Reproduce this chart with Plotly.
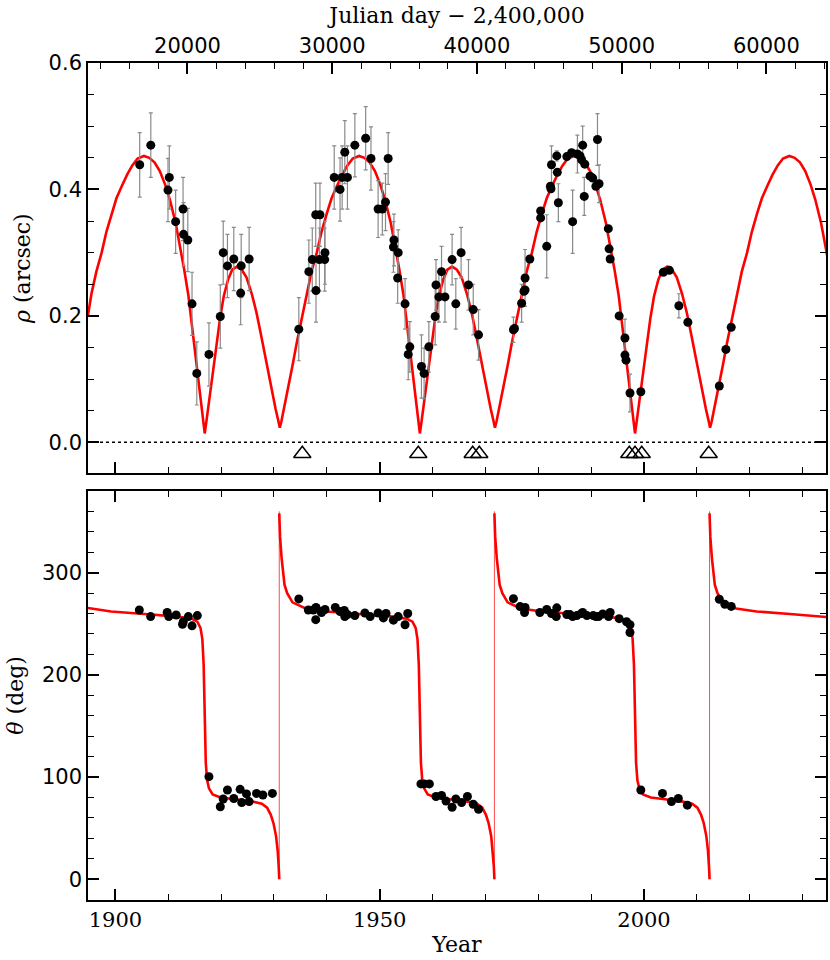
"""
Orbit plot: separation rho and position angle theta vs. time
=============================================================
  Block 0: Imports & Setup
  Block 1: Data (read off the reference figure)
  Block 2: Create Chart
  Block 3: HTML Export
"""

# region Block 0 - Imports & Setup
import plotly.graph_objects as go

WIDTH  = 830
HEIGHT = 960

RED   = "#ff0000"
BLACK = "#000000"
ERR_GRAY = "#8a8a8a"

SERIF = "DejaVu Serif, Liberation Serif, serif"
SANS  = "DejaVu Sans, Liberation Sans, sans-serif"

YEAR_RANGE  = [1894.82, 2034.43]
RHO_RANGE   = [-0.049, 0.6]
THETA_RANGE = [-20.3, 380.2]
NODE_LEVEL  = -0.018          # height of the open triangles


def year_to_jd(yr):
    # Julian day - 2,400,000 for a decimal year
    return 15020.3 + (yr - 1900.0) * 365.25
# endregion


# region Block 1 - Data
# Orbit model, separation (arcsec)
rho_curve_year = [
    1894.8, 1895.5, 1896.4, 1897.4, 1898.3, 1899.3, 1900.2, 1901.2, 1902.2, 1903.2,
    1904.2, 1905.4, 1906.4, 1907.4, 1908.4, 1909.4, 1910.3, 1911.4, 1912.2, 1913.0,
    1913.8, 1914.5, 1915.2, 1915.8, 1916.2, 1916.6,
    1916.9, 1917.2, 1917.6, 1918.2, 1918.9, 1919.8, 1920.5, 1921.3, 1922.1, 1923.0,
    1923.9, 1924.8, 1925.8, 1926.7, 1927.5, 1928.2, 1928.9, 1929.6, 1930.3, 1930.8,
    1931.1, 1931.4, 1931.9, 1932.7, 1933.5, 1934.3, 1935.3, 1936.2, 1937.1, 1938.1,
    1939.0, 1940.0, 1940.9, 1941.9, 1942.9, 1943.9, 1944.9, 1946.1, 1947.1, 1948.1,
    1949.1, 1950.1, 1951.0, 1952.1, 1952.9, 1953.7, 1954.5, 1955.2, 1955.9, 1956.5,
    1956.9, 1957.3,
    1957.6, 1957.9, 1958.3, 1958.9, 1959.6, 1960.5, 1961.2, 1962.0, 1962.8, 1963.7,
    1964.6, 1965.5, 1966.5, 1967.4, 1968.2, 1968.9, 1969.6, 1970.3, 1971.0, 1971.5,
    1971.8, 1972.1, 1972.6, 1973.4, 1974.2, 1975.0, 1976.0, 1976.9, 1977.8, 1978.8,
    1979.7, 1980.7, 1981.6, 1982.6, 1983.6, 1984.6, 1985.6, 1986.8, 1987.8, 1988.8,
    1989.8, 1990.8, 1991.7, 1992.8, 1993.6, 1994.4, 1995.2, 1995.9, 1996.6, 1997.2,
    1997.6, 1998.0,
    1998.3, 1998.6, 1999.0, 1999.6, 2000.3, 2001.2, 2001.9, 2002.7, 2003.5, 2004.4,
    2005.3, 2006.2, 2007.2, 2008.1, 2008.9, 2009.6, 2010.3, 2011.0, 2011.7, 2012.2,
    2012.5, 2012.8, 2013.3, 2014.1, 2014.9, 2015.7, 2016.7, 2017.6, 2018.5, 2019.5,
    2020.4, 2021.4, 2022.3, 2023.3, 2024.3, 2025.3, 2026.3, 2027.5, 2028.5, 2029.5,
    2030.5, 2031.5, 2032.4, 2033.5, 2034.3, 2035.0,
]
rho_curve_val = [
    0.200, 0.236, 0.270, 0.300, 0.333, 0.362, 0.386, 0.405, 0.423, 0.438,
    0.449, 0.453, 0.450, 0.443, 0.429, 0.408, 0.384, 0.347, 0.312, 0.274,
    0.233, 0.185, 0.135, 0.094, 0.065, 0.034,
    0.014, 0.032, 0.058, 0.097, 0.142, 0.196, 0.231, 0.257, 0.273, 0.278,
    0.273, 0.261, 0.235, 0.205, 0.172, 0.141, 0.111, 0.081, 0.053, 0.035,
    0.023, 0.033, 0.053, 0.086, 0.121, 0.157, 0.199, 0.236, 0.270, 0.300,
    0.333, 0.362, 0.386, 0.405, 0.423, 0.438, 0.449, 0.453, 0.450, 0.443,
    0.429, 0.408, 0.384, 0.347, 0.312, 0.274, 0.233, 0.185, 0.135, 0.094,
    0.065, 0.034,
    0.014, 0.032, 0.058, 0.097, 0.142, 0.196, 0.231, 0.257, 0.273, 0.278,
    0.273, 0.261, 0.235, 0.205, 0.172, 0.141, 0.111, 0.081, 0.053, 0.035,
    0.023, 0.033, 0.053, 0.086, 0.121, 0.157, 0.199, 0.236, 0.270, 0.300,
    0.333, 0.362, 0.386, 0.405, 0.423, 0.438, 0.449, 0.453, 0.450, 0.443,
    0.429, 0.408, 0.384, 0.347, 0.312, 0.274, 0.233, 0.185, 0.135, 0.094,
    0.065, 0.034,
    0.014, 0.032, 0.058, 0.097, 0.142, 0.196, 0.231, 0.257, 0.273, 0.278,
    0.273, 0.261, 0.235, 0.205, 0.172, 0.141, 0.111, 0.081, 0.053, 0.035,
    0.023, 0.033, 0.053, 0.086, 0.121, 0.157, 0.199, 0.236, 0.270, 0.300,
    0.333, 0.362, 0.386, 0.405, 0.423, 0.438, 0.449, 0.453, 0.450, 0.443,
    0.429, 0.408, 0.384, 0.347, 0.312, 0.280,
]

# Orbit model, position angle (deg); None = wrap 0 -> 360
theta_curve_year = [
    1894.8, 1899.2, 1905.5, 1911.8, 1914.4, 1915.5, 1916.1, 1916.45, 1916.7, 1916.9,
    1917.1, 1917.35, 1917.7, 1918.4, 1919.9, 1922.9, 1925.9, 1927.7, 1928.7, 1929.4,
    1929.9, 1930.4, 1930.7, 1930.9, 1931.0, None,
    1931.0, 1931.15, 1931.45, 1931.7, 1932.0, 1932.5, 1933.5, 1936.0, 1939.9, 1946.2,
    1952.5, 1955.1, 1956.2, 1956.8, 1957.15, 1957.4, 1957.6, 1957.8, 1958.05, 1958.4,
    1959.1, 1960.6, 1963.6, 1966.6, 1968.4, 1969.4, 1970.1, 1970.6, 1971.1, 1971.4,
    1971.6, 1971.7, None,
    1971.7, 1971.85, 1972.15, 1972.4, 1972.7, 1973.2, 1974.2, 1976.7, 1980.6, 1986.9,
    1993.2, 1995.8, 1996.9, 1997.5, 1997.85, 1998.1, 1998.3, 1998.5, 1998.75, 1999.1,
    1999.8, 2001.3, 2004.3, 2007.3, 2009.1, 2010.1, 2010.8, 2011.3, 2011.8, 2012.1,
    2012.3, 2012.4, None,
    2012.4, 2012.55, 2012.85, 2013.1, 2013.4, 2013.9, 2014.9, 2017.4, 2021.3, 2027.6,
    2035.0,
]
theta_curve_val = [
    265.5, 262.0, 259.6, 257.0, 255.0, 252.0, 246.0, 235.0, 210.0, 160.0,
    114.0, 97.0, 89.0, 83.0, 80.0, 78.0, 76.0, 74.0, 70.0, 63.0,
    55.0, 42.0, 28.0, 12.0, 0.0, None,
    358.0, 335.0, 314.0, 300.0, 288.0, 280.0, 271.0, 265.0, 262.0, 259.6,
    257.0, 255.0, 252.0, 246.0, 235.0, 210.0, 160.0, 114.0, 97.0, 89.0,
    83.0, 80.0, 78.0, 76.0, 74.0, 70.0, 63.0, 55.0, 42.0, 28.0,
    12.0, 0.0, None,
    358.0, 335.0, 314.0, 300.0, 288.0, 280.0, 271.0, 265.0, 262.0, 259.6,
    257.0, 255.0, 252.0, 246.0, 235.0, 210.0, 160.0, 114.0, 97.0, 89.0,
    83.0, 80.0, 78.0, 76.0, 74.0, 70.0, 63.0, 55.0, 42.0, 28.0,
    12.0, 0.0, None,
    358.0, 335.0, 314.0, 300.0, 288.0, 280.0, 271.0, 265.0, 262.0, 259.6,
    256.3,
]
theta_wrap_year = [1931.0, 1971.7, 2012.4]

# Measured separations
rho_obs_year = [
    1904.6, 1906.7, 1909.95, 1910.2, 1911.4, 1912.8, 1912.9, 1913.7, 1914.5, 1915.4,
    1917.7, 1919.85, 1920.4, 1921.2, 1922.4, 1923.7, 1923.8, 1925.3, 1934.7, 1936.6,
    1937.25, 1937.9, 1937.95, 1938.6, 1938.7, 1939.6, 1939.65, 1941.4, 1942.5, 1942.9,
    1943.4, 1943.9, 1945.3, 1947.35, 1948.35, 1949.7, 1950.5, 1951.1, 1951.6, 1952.6,
    1952.7, 1953.4, 1953.5, 1954.8, 1955.4, 1955.7, 1957.9, 1958.4, 1959.3, 1960.5,
    1960.65, 1961.2, 1961.7, 1962.35, 1963.7, 1964.4, 1965.4, 1966.8, 1967.7, 1968.7,
    1975.3, 1975.5, 1976.85, 1977.3, 1977.5, 1977.5, 1978.4, 1980.45, 1980.45, 1981.6,
    1982.3, 1982.4, 1982.5, 1983.5, 1983.6, 1983.8, 1985.4, 1986.3, 1986.5, 1987.4,
    1987.9, 1988.2, 1988.4, 1988.7, 1988.8, 1989.8, 1990.3, 1990.9, 1991.2, 1991.5,
    1993.25, 1993.4, 1993.6, 1995.3, 1996.4, 1996.4, 1996.6, 1997.35, 1999.4, 2003.66,
    2004.8, 2006.6, 2008.3, 2014.25, 2015.5, 2016.5,
]
rho_obs_val = [
    0.439, 0.470, 0.399, 0.419, 0.349, 0.369, 0.329, 0.320, 0.219, 0.109,
    0.139, 0.199, 0.300, 0.279, 0.290, 0.236, 0.279, 0.290, 0.179, 0.270,
    0.289, 0.360, 0.240, 0.289, 0.360, 0.289, 0.300, 0.419, 0.400, 0.419,
    0.459, 0.419, 0.470, 0.481, 0.449, 0.369, 0.369, 0.380, 0.449, 0.309,
    0.320, 0.260, 0.300, 0.219, 0.139, 0.151, 0.120, 0.109, 0.151, 0.199,
    0.249, 0.230, 0.270, 0.230, 0.289, 0.219, 0.300, 0.249, 0.210, 0.170,
    0.178, 0.180, 0.220, 0.239, 0.241, 0.260, 0.290, 0.355, 0.366, 0.310,
    0.405, 0.401, 0.439, 0.453, 0.427, 0.379, 0.452, 0.458, 0.349, 0.456,
    0.453, 0.447, 0.470, 0.389, 0.440, 0.421, 0.418, 0.405, 0.479, 0.409,
    0.338, 0.306, 0.290, 0.200, 0.165, 0.138, 0.130, 0.078, 0.080, 0.269,
    0.272, 0.216, 0.190, 0.089, 0.147, 0.182,
]
rho_obs_err = [
    0.051, 0.051, 0.050, 0.050, 0.050, 0.050, 0.050, 0.050, 0.050, 0.050,
    0.050, 0.050, 0.050, 0.050, 0.050, 0.050, 0.050, 0.050, 0.050, 0.050,
    0.050, 0.050, 0.050, 0.050, 0.050, 0.050, 0.050, 0.050, 0.050, 0.050,
    0.050, 0.050, 0.050, 0.050, 0.050, 0.045, 0.041, 0.045, 0.041, 0.040,
    0.041, 0.040, 0.036, 0.040, 0.040, 0.040, 0.050, 0.040, 0.040, 0.045,
    0.040, 0.040, 0.040, 0.040, 0.040, 0.040, 0.040, 0.040, 0.040, 0.040,
    0.020, 0.000, 0.030, 0.000, 0.000, 0.045, 0.000, 0.000, 0.000, 0.050,
    0.000, 0.000, 0.030, 0.008, 0.000, 0.030, 0.000, 0.000, 0.050, 0.030,
    0.000, 0.000, 0.030, 0.030, 0.000, 0.000, 0.000, 0.000, 0.041, 0.030,
    0.004, 0.000, 0.000, 0.000, 0.030, 0.000, 0.000, 0.030, 0.000, 0.000,
    0.000, 0.019, 0.000, 0.000, 0.000, 0.000,
]

# Measured position angles
theta_obs_year = [
    1904.53, 1906.67, 1909.8, 1910.1, 1911.5, 1912.7, 1912.85, 1913.8, 1914.5, 1915.5,
    1917.7, 1919.85, 1920.4, 1921.2, 1922.4, 1923.6, 1923.9, 1924.8, 1925.3, 1926.7,
    1927.9, 1929.7, 1934.7, 1936.5, 1937.45, 1937.95, 1937.9, 1938.9, 1939.0, 1939.65,
    1941.6, 1942.5, 1943.3, 1943.4, 1943.9, 1945.3, 1947.2, 1948.2, 1949.7, 1950.7,
    1951.2, 1952.6, 1953.5, 1954.8, 1955.3, 1957.8, 1958.45, 1959.4, 1960.65, 1961.7,
    1962.55, 1963.7, 1964.4, 1965.5, 1966.6, 1967.7, 1968.7, 1975.3, 1976.55, 1977.4,
    1977.5, 1980.3, 1981.6, 1982.5, 1983.4, 1983.5, 1985.4, 1986.0, 1986.5, 1987.3,
    1988.2, 1988.4, 1989.2, 1990.4, 1990.9, 1991.4, 1992.2, 1993.3, 1993.6, 1995.3,
    1996.7, 1997.35, 1997.35, 1999.4, 2003.5, 2005.2, 2006.5, 2008.2, 2014.25, 2015.3,
    2016.5,
]
theta_obs_val = [
    263.5, 257.0, 261.0, 257.0, 258.6, 249.5, 252.0, 257.0, 248.0, 258.0,
    100.4, 71.0, 78.5, 87.3, 79.0, 88.0, 75.0, 83.5, 76.0, 84.0,
    82.5, 84.0, 274.3, 263.5, 263.5, 266.0, 254.0, 262.0, 261.0, 264.0,
    266.0, 262.0, 263.0, 257.0, 259.0, 258.0, 260.5, 257.0, 260.5, 255.7,
    260.0, 253.5, 257.0, 249.0, 260.0, 93.3, 93.3, 93.3, 81.0, 82.0,
    76.5, 70.5, 78.5, 75.0, 81.0, 73.4, 68.5, 274.6, 266.8, 261.0,
    266.0, 261.0, 264.0, 260.0, 257.0, 265.6, 259.0, 259.0, 257.0, 258.0,
    260.0, 261.0, 258.0, 258.0, 257.0, 257.0, 259.6, 257.0, 261.0, 255.0,
    252.0, 249.0, 241.5, 87.3, 84.0, 76.0, 79.0, 72.5, 274.0, 269.0,
    267.0,
]

# Epochs marked with open triangles
node_year = [1935.36, 1957.30, 1967.59, 1968.84, 1997.22, 1998.30, 1999.57, 2012.24]
# endregion


# region Block 2 - Create Chart
fig = go.Figure()

# --- top panel: rho ---
fig.add_trace(go.Scatter(
    x=rho_curve_year, y=rho_curve_val, mode="lines",
    line=dict(color=RED, width=2.6), xaxis="x", yaxis="y",
    hoverinfo="skip",
))
fig.add_trace(go.Scatter(
    x=rho_obs_year, y=rho_obs_val, mode="markers",
    marker=dict(color=BLACK, size=9),
    error_y=dict(type="data", array=rho_obs_err, color=ERR_GRAY,
                 thickness=1.2, width=2),
    xaxis="x", yaxis="y",
))
fig.add_trace(go.Scatter(
    x=node_year, y=[NODE_LEVEL] * len(node_year), mode="markers",
    marker=dict(symbol="triangle-up-open", size=15, color=BLACK,
                line=dict(width=1.5, color=BLACK)),
    xaxis="x", yaxis="y",
))

# JD axis carrier (empty trace so the top axis is drawn)
fig.add_trace(go.Scatter(x=[], y=[], xaxis="x3", yaxis="y", showlegend=False))

# --- bottom panel: theta ---
wrap_x, wrap_y = [], []
for w in theta_wrap_year:
    wrap_x += [w, w, None]
    wrap_y += [0, 360, None]
fig.add_trace(go.Scatter(
    x=wrap_x, y=wrap_y, mode="lines",
    line=dict(color=RED, width=1), opacity=0.7,
    xaxis="x2", yaxis="y2", hoverinfo="skip",
))
fig.add_trace(go.Scatter(
    x=theta_curve_year, y=theta_curve_val, mode="lines",
    line=dict(color=RED, width=2.6), connectgaps=False,
    xaxis="x2", yaxis="y2", hoverinfo="skip",
))
fig.add_trace(go.Scatter(
    x=theta_obs_year, y=theta_obs_val, mode="markers",
    marker=dict(color=BLACK, size=9),
    xaxis="x2", yaxis="y2",
))

# dotted zero line in the rho panel
fig.add_shape(
    type="line", xref="x domain", yref="y",
    x0=0, x1=1, y0=0, y1=0,
    line=dict(color=BLACK, width=1.5, dash="dot"),
)

axis_common = dict(
    showline=True, linecolor=BLACK, linewidth=1.6,
    ticks="inside", tickcolor=BLACK, tickwidth=1.6, ticklen=11,
    showgrid=False, zeroline=False, automargin=False,
)
year_minor = dict(ticks="inside", ticklen=6, tickwidth=1.4, tickcolor=BLACK, dtick=10)
tick_font = dict(family=SANS, size=21, color=BLACK)
title_font = dict(family=SERIF, size=22, color=BLACK)

fig.update_layout(
    width=WIDTH, height=HEIGHT,
    paper_bgcolor="white", plot_bgcolor="white",
    showlegend=False,
    margin=dict(l=88, r=4, t=63, b=60),
    xaxis=dict(
        **axis_common, domain=[0, 1], anchor="y", range=YEAR_RANGE,
        tick0=1900, dtick=50, showticklabels=False, mirror=True,
        minor=year_minor,
    ),
    yaxis=dict(
        **axis_common, domain=[0.5098, 1.0], anchor="x", range=RHO_RANGE,
        tick0=0, dtick=0.2, tickformat=".1f", mirror="ticks",
        minor=dict(ticks="inside", ticklen=6, tickwidth=1.4, tickcolor=BLACK, dtick=0.05),
        tickfont=tick_font,
        title=dict(text="<i>ρ</i> (arcsec)", font=title_font, standoff=12),
    ),
    xaxis3=dict(
        **axis_common, overlaying="x", side="top", anchor="y",
        range=[year_to_jd(YEAR_RANGE[0]), year_to_jd(YEAR_RANGE[1])],
        tick0=20000, dtick=10000, tickformat="d",
        minor=dict(ticks="inside", ticklen=6, tickwidth=1.4, tickcolor=BLACK, dtick=2000),
        tickfont=dict(family=SANS, size=21, color=BLACK),
        title=dict(text="Julian day − 2,400,000", font=title_font, standoff=4),
    ),
    xaxis2=dict(
        **axis_common, domain=[0, 1], anchor="y2", range=YEAR_RANGE,
        tick0=1900, dtick=50, mirror="ticks",
        minor=year_minor,
        tickfont=dict(family=SERIF, size=21, color=BLACK),
        title=dict(text="Year", font=title_font, standoff=6),
    ),
    yaxis2=dict(
        **axis_common, domain=[0, 0.489], anchor="x2", range=THETA_RANGE,
        tick0=0, dtick=100, mirror="ticks",
        minor=dict(ticks="inside", ticklen=6, tickwidth=1.4, tickcolor=BLACK, dtick=20),
        tickfont=tick_font,
        title=dict(text="<i>θ</i> (deg)", font=title_font, standoff=12),
    ),
)
# endregion


# region Block 3 - HTML Export
# drop the default 8px page margin so the figure sits at the window origin
fig.write_html(
    "out.html",
    config={"displayModeBar": False},
    post_script="document.body.style.margin = '0px';",
)
print("saved out.html")
# endregion
